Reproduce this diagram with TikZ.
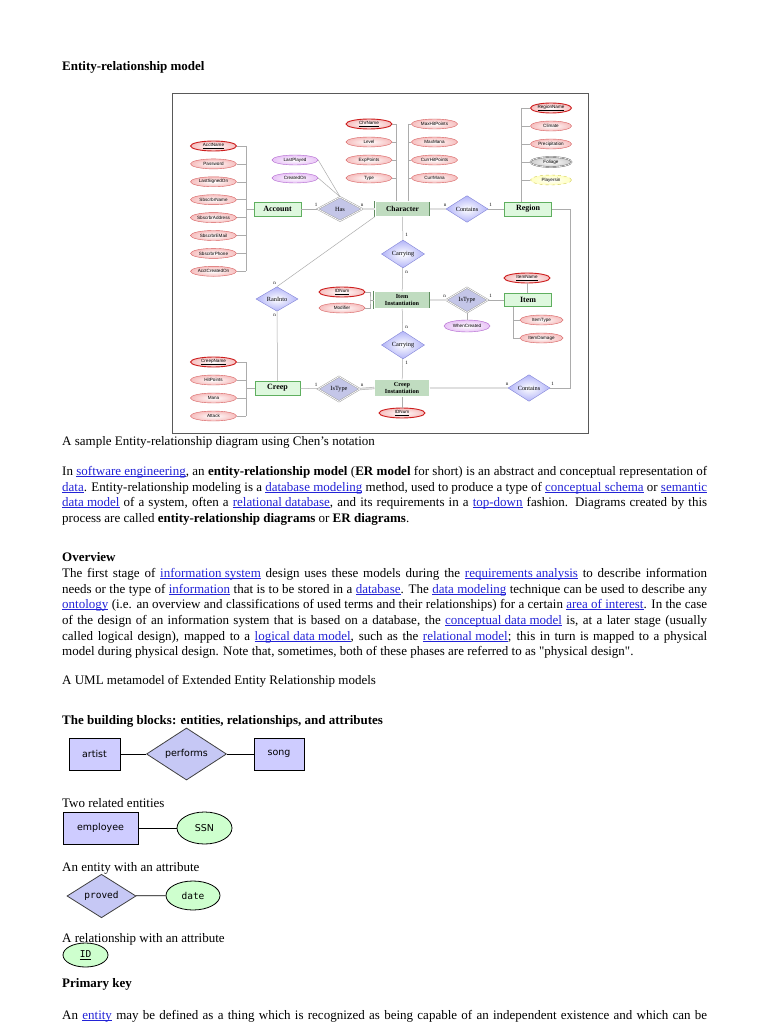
\documentclass[tikz,border=0pt]{standalone}
\usepackage{fontspec}
\setmainfont{Liberation Serif}
\newfontfamily\ersans{Liberation Sans}
\newfontfamily\bbsans{DejaVu Sans}
\newfontfamily\bbmono{DejaVu Sans Mono}
\usetikzlibrary{shapes.geometric, positioning}

\definecolor{linkblue}{RGB}{35,35,215}
\definecolor{attrline}{RGB}{215,95,95}
\definecolor{attrkey}{RGB}{205,30,30}
\definecolor{attrfill}{RGB}{246,190,190}
\definecolor{relline}{RGB}{175,100,205}
\definecolor{relfill}{RGB}{232,195,246}
\definecolor{entline}{RGB}{95,175,95}
\definecolor{entfill}{RGB}{222,248,222}
\definecolor{weakline}{RGB}{95,140,95}
\definecolor{weakfill}{RGB}{192,220,192}
\definecolor{diafill}{RGB}{178,180,248}
\definecolor{dialine}{RGB}{130,132,215}
\definecolor{weakdia}{RGB}{196,198,232}
\definecolor{bbpurple}{RGB}{206,204,255}
\definecolor{bbdia}{RGB}{198,200,245}
\definecolor{bbgreen}{RGB}{206,255,206}

\newsavebox{\lnkbox}
\newcommand{\lnk}[1]{\textcolor{linkblue}{\sbox{\lnkbox}{#1}\rlap{\rule[-1.7pt]{\wd\lnkbox}{0.55pt}}\usebox{\lnkbox}}}
\newcommand{\jline}[1]{\hbox to 645pt{\spaceskip=0.25em plus 0.5em minus 0.1em\relax#1}}

\tikzset{
  attr/.style={ellipse,draw=attrline,line width=0.4pt,inner color=white,outer color=attrfill,
    minimum width=46pt,minimum height=10pt,inner sep=0pt,font=\ersans\fontsize{4.6}{5}\selectfont},
  keyattr/.style={attr,draw=attrkey,line width=0.9pt},
  relattr/.style={attr,draw=relline,outer color=relfill},
  multiattr/.style={attr,draw=gray!70!black,outer color=gray!40,double=white,double distance=0.6pt},
  derattr/.style={attr,draw=yellow!60!gray,outer color=yellow!25,dashed},
  entity/.style={rectangle,draw=entline,fill=entfill,line width=0.5pt,minimum width=47pt,
    minimum height=14pt,inner sep=0pt,font=\fontsize{8}{9}\selectfont\bfseries},
  weakent/.style={entity,draw=weakline,fill=weakfill,double=white,double distance=0.6pt,
    minimum width=55pt,font=\fontsize{6.2}{6.4}\selectfont\bfseries,align=center},
  rel/.style={diamond,draw=dialine,inner color=white,outer color=diafill,line width=0.4pt,
    minimum width=42pt,minimum height=25pt,inner sep=0pt,font=\fontsize{6.3}{7}\selectfont},
  weakrel/.style={diamond,draw=gray!75,fill=weakdia,line width=0.5pt,double=white,double distance=0.7pt,
    minimum width=42pt,minimum height=25pt,inner sep=0pt,font=\fontsize{6.3}{7}\selectfont},
  card/.style={inner sep=0pt,font=\fontsize{5}{5}\selectfont},
  conn/.style={draw=gray!65,line width=0.5pt},
  total/.style={draw=gray!60,double=gray!25,double distance=1.3pt,line width=0.45pt},
  txt/.style={anchor=base west,inner sep=0pt,font=\fontsize{13}{15}\selectfont},
  head/.style={txt,font=\fontsize{13}{15}\selectfont\bfseries},
  bbent/.style={rectangle,draw=black,fill=bbpurple,line width=0.8pt,minimum width=51pt,
    minimum height=32pt,inner sep=0pt,font=\bbsans\fontsize{9.5}{10}\selectfont},
  bbrel/.style={diamond,draw=black!75,fill=bbdia,line width=0.8pt,minimum width=80pt,
    minimum height=51pt,inner sep=0pt,font=\bbsans\fontsize{9.5}{10}\selectfont},
  bbattr/.style={ellipse,draw=black,fill=bbgreen,line width=0.8pt,minimum width=55pt,
    minimum height=32pt,inner sep=0pt,font=\bbsans\fontsize{9.5}{10}\selectfont},
  bbline/.style={draw=black,line width=0.8pt}
}

\begin{document}
\begin{tikzpicture}[x=1pt,y=-1pt]
\useasboundingbox[fill=white] (0,0) rectangle (768,1024);

% page text
\node[head] (title) at (62,70.5) {Entity-relationship model};
\node[txt] (caption) at (62,445) {A sample Entity-relationship diagram using Chen's notation};
\node[txt] (p1a) at (62,475) {\jline{In \lnk{software engineering}, an \textbf{entity-relationship model} (\textbf{ER model} for short) is an abstract and conceptual representation of}};
\node[txt] (p1b) at (62,491) {\jline{\lnk{data}. Entity-relationship modeling is a \lnk{database modeling} method, used to produce a type of \lnk{conceptual schema} or \lnk{semantic}}};
\node[txt] (p1c) at (62,506) {\jline{\lnk{data model} of a system, often a \lnk{relational database}, and its requirements in a \lnk{top-down} fashion. Diagrams created by this}};
\node[txt] (p1d) at (62,522) {process are called \textbf{entity-relationship diagrams} or \textbf{ER diagrams}.};
\node[head] (overview) at (62,561) {Overview};
\node[txt] (p2a) at (62,577) {\jline{The first stage of \lnk{information system} design uses these models during the \lnk{requirements analysis} to describe information}};
\node[txt] (p2b) at (62,593) {\jline{needs or the type of \lnk{information} that is to be stored in a \lnk{database}. The \lnk{data modeling} technique can be used to describe any}};
\node[txt] (p2c) at (62,608) {\jline{\lnk{ontology} (i.e. an overview and classifications of used terms and their relationships) for a certain \lnk{area of interest}. In the case}};
\node[txt] (p2d) at (62,624) {\jline{of the design of an information system that is based on a database, the \lnk{conceptual data model} is, at a later stage (usually}};
\node[txt] (p2e) at (62,640) {\jline{called logical design), mapped to a \lnk{logical data model}, such as the \lnk{relational model}; this in turn is mapped to a physical}};
\node[txt] (p2f) at (62,655) {model during physical design. Note that, sometimes, both of these phases are referred to as \textquotedbl physical design\textquotedbl.};
\node[txt] (uml) at (62,684) {A UML metamodel of Extended Entity Relationship models};
\node[head] (blocks) at (62,724) {The building blocks: entities, relationships, and attributes};
\node[txt] (cap1) at (62,807) {Two related entities};
\node[txt] (cap2) at (62,871) {An entity with an attribute};
\node[txt] (cap3) at (62,942) {A relationship with an attribute};
\node[head] (primary) at (62,987) {Primary key};
\node[txt] (p3a) at (62,1019) {\jline{An \lnk{entity} may be defined as a thing which is recognized as being capable of an independent existence and which can be}};

% ER diagram frame
\draw[gray!70!black,line width=0.8pt] (172,93) rectangle (588,433);

% account and its attributes
\node[entity] (account) at (277.5,209) {Account};
\node[keyattr] (acct1) at (213.5,146) {\underline{AcctName}};
\foreach \t [count=\i from 2] in {Password,LastSignedOn,SbscrbrName,SbscrbrAddress,SbscrbrEMail,SbscrbrPhone,AcctCreatedOn}
  \node[attr] (acct\i) at (213.5,{146+17.9*(\i-1)}) {\t};
\coordinate (acctbus) at (246,209);
\foreach \i in {1,...,8}
  \draw[conn] (acct\i.east) -- (acct\i.east -| acctbus);
\draw[conn] (acct1.east -| acctbus) -- (acct8.east -| acctbus);
\draw[conn] (acctbus) -- (account.west);

% has
\node[weakrel,minimum width=45pt,minimum height=24pt] (has) at (340,209) {Has};
\node[relattr] (lastplayed) at (295,160) {LastPlayed};
\node[relattr] (createdon) at (295,178) {CreatedOn};
\draw[conn] (lastplayed.east) -- (has.north);
\draw[conn] (createdon.east) -- (has.north);

% character and its attributes
\node[weakent,minimum height=15pt,font=\fontsize{7.5}{8}\selectfont\bfseries] (character) at (402.5,209) {Character};
\node[keyattr] (chrl1) at (369,124) {\underline{ChrName}};
\foreach \t [count=\i from 2] in {Level,ExpPoints,Type}
  \node[attr] (chrl\i) at (369,{124+18*(\i-1)}) {\t};
\foreach \t [count=\i] in {MaxHitPoints,MaxMana,CurrHitPoints,CurrMana}
  \node[attr] (chrr\i) at (434.5,{124+18*(\i-1)}) {\t};
\coordinate (chrbusl) at (396,124);
\coordinate (chrbusr) at (408,124);
\foreach \i in {1,...,4} {
  \draw[conn] (chrl\i.east) -- (chrl\i.east -| chrbusl);
  \draw[conn] (chrr\i.west) -- (chrr\i.west -| chrbusr);
}
\draw[conn] (chrbusl) -- (chrbusl |- character.north);
\draw[conn] (chrbusr) -- (chrbusr |- character.north);

% region and its attributes
\node[rel] (contains) at (467,209) {Contains};
\node[entity] (region) at (528,209) {Region};
\node[keyattr,minimum width=41pt] (reg1) at (551,108) {\underline{RegionName}};
\node[attr,minimum width=41pt] (reg2) at (551,126) {Climate};
\node[attr,minimum width=41pt] (reg3) at (551,144) {Precipitation};
\node[multiattr,minimum width=41pt] (reg4) at (551,162) {Foliage};
\node[derattr,minimum width=41pt] (reg5) at (551,180) {Playersin};
\coordinate (regbus) at (521.5,108);
\foreach \i in {1,...,5}
  \draw[conn] (reg\i.west) -- (reg\i.west -| regbus);
\draw[conn] (regbus) -- (regbus |- region.north);

% items
\node[rel,minimum width=43pt,minimum height=24pt] (carrying) at (403,254) {Carrying};
\node[weakent,minimum height=17pt,minimum width=56pt] (iteminst) at (402,300) {Item\\Instantiation};
\node[weakrel] (istype) at (467,300) {IsType};
\node[entity,minimum height=13pt] (item) at (528,300) {Item};
\node[keyattr] (itemname) at (527,278) {\underline{ItemName}};
\node[attr,minimum width=43pt] (itemtype) at (541.5,320) {ItemType};
\node[attr,minimum width=43pt] (itemdamage) at (541.5,338) {ItemDamage};
\coordinate (itembus) at (513,338);
\draw[conn] (itemname.south) -- (itemname.south |- item.north);
\draw[conn] (itembus |- item.south) -- (itembus) -- (itemdamage.west);
\draw[conn] (itemtype.west -| itembus) -- (itemtype.west);
\node[relattr,minimum height=12pt] (whencreated) at (467,326) {WhenCreated};
\draw[conn] (istype.south) -- (whencreated.north);
\node[keyattr] (idnum) at (342,292) {\underline{IDNum}};
\node[attr] (modifier) at (342,308) {Modifier};
\coordinate (iibus) at (370,300);
\draw[conn] (idnum.east) -| (iibus) |- (modifier.east);
\draw[conn] (iibus) -- (iteminst.west);

% creeps
\node[rel,minimum width=43pt,minimum height=24pt] (carrying2) at (403,345) {Carrying};
\node[weakent,minimum height=17pt] (creepinst) at (402,388) {Creep\\Instantiation};
\node[keyattr] (idnum2) at (402,413) {\underline{IDNum}};
\draw[conn] (creepinst.south) -- (idnum2.north);
\node[rel,minimum height=26pt] (contains2) at (529,388) {Contains};
\node[rel,minimum height=24pt] (raninto) at (277,299) {RanInto};
\node[entity,minimum width=45pt] (creep) at (277.5,388) {Creep};
\node[keyattr] (crp1) at (213.5,362) {\underline{CreepName}};
\foreach \t [count=\i from 2] in {HitPoints,Mana,Attack}
  \node[attr] (crp\i) at (213.5,{362+18*(\i-1)}) {\t};
\coordinate (crpbus) at (246,388);
\foreach \i in {1,...,4}
  \draw[conn] (crp\i.east) -- (crp\i.east -| crpbus);
\draw[conn] (crp1.east -| crpbus) -- (crp4.east -| crpbus);
\draw[conn] (crpbus) -- (creep.west);
\node[weakrel] (istype2) at (339,389) {IsType};

% relationships
\draw[conn] (account) -- (has);
\draw[total] (has) -- (character);
\draw[total] (character) -- (contains);
\draw[conn] (contains) -- (region);
\draw[conn] (character) -- (carrying);
\draw[conn] (carrying) -- (iteminst);
\draw[total] (iteminst) -- (istype);
\draw[conn] (istype) -- (item);
\draw[conn] (iteminst) -- (carrying2);
\draw[conn] (carrying2) -- (creepinst);
\draw[conn] (raninto.north) -- (character.south west);
\draw[conn] (raninto) -- (creep);
\draw[conn] (creep) -- (istype2);
\draw[total] (istype2.east) -- (creepinst.west);
\draw[total] (creepinst) -- (contains2);
\coordinate (regcorner) at (570,209);
\draw[conn] (region.east) -- (regcorner) |- (contains2.east);

% cardinalities
\node[card] (c1) at (316,205) {1};
\node[card] (c2) at (362,205) {n};
\node[card] (c3) at (445,205) {n};
\node[card] (c4) at (490.5,205) {1};
\node[card] (c5) at (406.5,235) {1};
\node[card] (c6) at (406.5,272) {n};
\node[card] (c7) at (444.5,296) {n};
\node[card] (c8) at (490.5,296) {1};
\node[card] (c9) at (406.5,327) {n};
\node[card] (c10) at (406.5,363) {1};
\node[card] (c11) at (274.5,283) {n};
\node[card] (c12) at (274.5,315) {n};
\node[card] (c13) at (316,385) {1};
\node[card] (c14) at (362,385) {n};
\node[card] (c15) at (507,384) {n};
\node[card] (c16) at (552.5,384) {1};

% building blocks
\node[bbent] (artist) at (94.5,754) {artist};
\node[bbrel] (performs) at (186.5,754) {performs};
\node[bbent,minimum width=50pt] (song) at (279,754) {song};
\draw[bbline] (artist) -- (performs);
\draw[bbline] (performs) -- (song);
\node[bbent,minimum width=75pt] (employee) at (100.5,828) {employee};
\node[bbattr] (ssn) at (204.5,828) {SSN};
\draw[bbline] (employee) -- (ssn);
\node[bbrel,minimum width=69pt,minimum height=40pt,font=\bbmono\fontsize{9.5}{10}\selectfont] (proved) at (101.5,896) {proved};
\node[bbattr,minimum width=54pt,minimum height=29pt,font=\bbmono\fontsize{9.5}{10}\selectfont] (date) at (193,895.5) {date};
\draw[bbline] (proved) -- (date);
\node[bbattr,minimum width=45pt,minimum height=24pt,font=\bbmono\fontsize{9.5}{10}\selectfont] (id) at (85.5,955) {\underline{ID}};
\end{tikzpicture}
\end{document}
